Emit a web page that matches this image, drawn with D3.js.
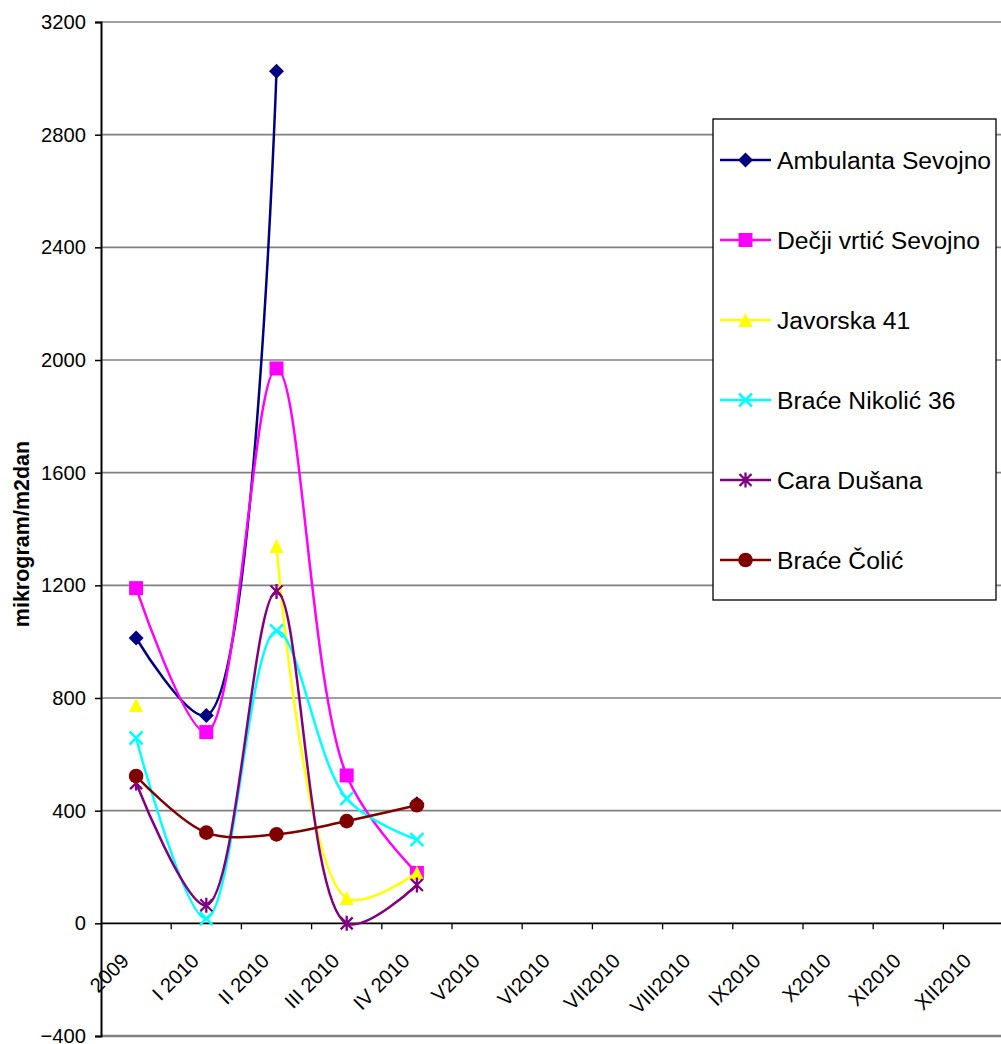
<!DOCTYPE html>
<html>
<head>
<meta charset="utf-8">
<script src="https://cdn.jsdelivr.net/npm/d3@7"></script>
<style>
  html, body { margin: 0; padding: 0; background: #fff; }
  svg { display: block; font-family: "Liberation Sans", Arial, sans-serif; }
</style>
</head>
<body>
<svg id="chart" width="1001" height="1044"></svg>
<script>
const categories = ["2009", "I 2010", "II 2010", "III 2010", "IV 2010", "V2010", "VI2010", "VII2010", "VIII2010", "IX2010", "X2010", "XI2010", "XII2010"];
const yTicks = [-400, 0, 400, 800, 1200, 1600, 2000, 2400, 2800, 3200];
const seriesNames = ["Ambulanta Sevojno", "Dečji vrtić Sevojno", "Javorska 41", "Braće Nikolić 36", "Cara Dušana", "Braće Čolić"];
const ambulanta = [1013, 738, 3025, null, 425];
const decjiVrtic = [1190, 679, 1970, 525, 179];
const javorska = [775, null, 1340, 90, 180];
const braceNikolic = [658, 17, 1038, 443, 297];
const caraDusana = [498, 64, 1178, 0, 136];
const braceColic = [523, 322, 316, 363, 419];
const seriesValues = [ambulanta, decjiVrtic, javorska, braceNikolic, caraDusana, braceColic];
const seriesColors = ["#000080", "#FF00FF", "#FFFF00", "#00FFFF", "#800080", "#800000"];
const seriesMarkers = ["diamond", "square", "triangle", "x", "star", "circle"];
const axisTitle = "mikrogram/m2dan";

const svg = d3.select("#chart");
const x = d3.scaleBand().domain(categories).range([101, 101 + 13 * 70.2]);
const y = d3.scaleLinear().domain([-400, 3200]).range([1036, 22]);
const plotRight = 1001;
const tickFont = 20.2;

// gridlines
svg.append("g").selectAll("line").data(yTicks.filter(t => t !== 0)).join("line")
  .attr("x1", 101).attr("x2", plotRight)
  .attr("y1", d => y(d)).attr("y2", d => y(d))
  .attr("stroke", "#808080").attr("stroke-width", d => d === -400 ? 2.5 : 1.6);

// y axis
const yAxis = d3.axisLeft(y).tickValues(yTicks).tickSize(6).tickPadding(9).tickFormat(d3.format("d"));
const yg = svg.append("g").attr("transform", "translate(101,0)").call(yAxis);
yg.select(".domain").attr("stroke", "#000").attr("stroke-width", 2);
yg.selectAll(".tick line").attr("stroke", "#000").attr("stroke-width", 1.5);
yg.selectAll(".tick text").attr("font-size", tickFont).attr("fill", "#000")
  .attr("font-family", "'Liberation Sans', Arial, sans-serif");

// x axis at zero
svg.append("line").attr("x1", 101).attr("x2", plotRight).attr("y1", y(0)).attr("y2", y(0))
  .attr("stroke", "#000").attr("stroke-width", 1.8);
svg.append("g").selectAll("line").data(categories.slice(1)).join("line")
  .attr("x1", d => x(d)).attr("x2", d => x(d))
  .attr("y1", y(0)).attr("y2", y(0) + 6)
  .attr("stroke", "#000").attr("stroke-width", 1.3);
svg.append("g").selectAll("text").data(categories).join("text")
  .attr("transform", d => `translate(${x(d) + x.bandwidth() / 2 - 6},${962}) rotate(-45)`)
  .attr("text-anchor", "end").attr("font-size", tickFont).attr("fill", "#000")
  .text(d => d);

// axis title
svg.append("text").attr("transform", "translate(29,534) rotate(-90)")
  .attr("text-anchor", "middle").attr("font-size", 21.5).attr("font-weight", "bold")
  .text(axisTitle);

// markers
function drawMarker(g, type, cx, cy, color) {
  const s = 7;
  if (type === "diamond") {
    g.append("path").attr("d", `M${cx},${cy - s - 0.5}L${cx + s + 0.5},${cy}L${cx},${cy + s + 0.5}L${cx - s - 0.5},${cy}Z`).attr("fill", color);
  } else if (type === "square") {
    g.append("rect").attr("x", cx - s).attr("y", cy - s).attr("width", 2 * s).attr("height", 2 * s).attr("fill", color);
  } else if (type === "triangle") {
    g.append("path").attr("d", `M${cx},${cy - s}L${cx + s},${cy + s}L${cx - s},${cy + s}Z`).attr("fill", color);
  } else if (type === "circle") {
    g.append("circle").attr("cx", cx).attr("cy", cy).attr("r", 7.3).attr("fill", color);
  } else if (type === "x") {
    g.append("path").attr("d", `M${cx - 6.5},${cy - 6.5}L${cx + 6.5},${cy + 6.5}M${cx - 6.5},${cy + 6.5}L${cx + 6.5},${cy - 6.5}`)
      .attr("stroke", color).attr("stroke-width", 2.5).attr("fill", "none");
  } else if (type === "star") {
    g.append("path").attr("d", `M${cx - 6},${cy - 6}L${cx + 6},${cy + 6}M${cx - 6},${cy + 6}L${cx + 6},${cy - 6}M${cx},${cy - 7.5}L${cx},${cy + 7.5}`)
      .attr("stroke", color).attr("stroke-width", 2.3).attr("fill", "none");
  }
}

const line = d3.line()
  .defined(d => d.v !== null)
  .x(d => x(d.c) + x.bandwidth() / 2)
  .y(d => y(d.v))
  .curve(d3.curveCatmullRom.alpha(0.5));

seriesValues.forEach((vals, i) => {
  const g = svg.append("g");
  const data = vals.map((v, j) => ({ c: categories[j], v }));
  g.append("path").datum(data).attr("d", line)
    .attr("fill", "none").attr("stroke", seriesColors[i]).attr("stroke-width", 2.5);
  data.filter(d => d.v !== null).forEach(d => {
    drawMarker(g, seriesMarkers[i], x(d.c) + x.bandwidth() / 2, y(d.v), seriesColors[i]);
  });
});

// legend
const lg = svg.append("g");
lg.append("rect").attr("x", 713).attr("y", 119).attr("width", 283).attr("height", 481)
  .attr("fill", "#fff").attr("stroke", "#000").attr("stroke-width", 1.3);
seriesNames.forEach((name, i) => {
  const ly = 160 + i * 80;
  lg.append("line").attr("x1", 720).attr("x2", 771).attr("y1", ly).attr("y2", ly)
    .attr("stroke", seriesColors[i]).attr("stroke-width", 2.5);
  drawMarker(lg, seriesMarkers[i], 745.5, ly, seriesColors[i]);
  lg.append("text").attr("x", 777).attr("y", ly + 9).attr("font-size", 24.7).attr("fill", "#000").text(name);
});
</script>
</body>
</html>
